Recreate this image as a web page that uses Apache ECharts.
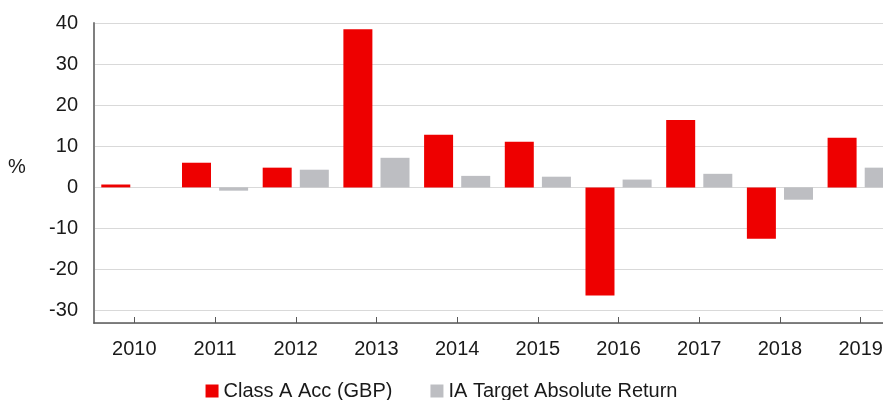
<!DOCTYPE html>
<html>
<head>
<meta charset="utf-8">
<script src="https://cdn.jsdelivr.net/npm/echarts@6/dist/echarts.min.js"></script>
<style>
html,body{margin:0;padding:0;background:#fff;}
#chart{width:883px;height:400px;}
</style>
</head>
<body>
<div id="chart"></div>
<script>
const years = ['2010','2011','2012','2013','2014','2015','2016','2017','2018','2019'];
const classA = [0.7, 6.0, 4.8, 38.5, 12.8, 11.1, -26.3, 16.4, -12.5, 12.1];
const iaTAR = [null, -0.8, 4.3, 7.2, 2.8, 2.6, 1.9, 3.3, -3.0, 4.8];
const seriesNames = ['Class A Acc (GBP)', 'IA Target Absolute Return'];
const yMin = -33, yMax = 40;

const font = 'Liberation Sans, Arial, sans-serif';
const chart = echarts.init(document.getElementById('chart'));
chart.setOption({
  animation: false,
  backgroundColor: '#fff',
  grid: { left: 94, width: 807, top: 23, height: 300, containLabel: false, outerBoundsMode: 'none' },
  graphic: [{
    type: 'text', left: 8, top: 157,
    style: { text: '%', font: '20px ' + font, fill: '#1a1a1a' }
  }],
  legend: {
    data: seriesNames,
    left: 'center', top: 376,
    icon: 'rect', itemWidth: 13, itemHeight: 13, itemGap: 38,
    textStyle: { fontFamily: font, fontSize: 20, color: '#1a1a1a' }
  },
  xAxis: {
    type: 'category',
    data: years,
    axisLine: { show: true, onZero: false, lineStyle: { color: '#595959', width: 1.5 } },
    axisTick: { show: true, alignWithLabel: true, inside: true, length: 6, lineStyle: { color: '#595959' } },
    axisLabel: { fontFamily: font, fontSize: 20, color: '#1a1a1a', margin: 16 },
    splitLine: { show: false }
  },
  yAxis: {
    type: 'value',
    min: yMin, max: yMax, splitNumber: 7, minInterval: 10, maxInterval: 10,
    axisLine: { show: true, lineStyle: { color: '#7f7f7f', width: 2 } },
    axisTick: { show: false },
    axisLabel: { fontFamily: font, fontSize: 20, color: '#1a1a1a', margin: 16, showMinLabel: false },
    splitLine: { show: true, lineStyle: { color: '#d9d9d9', width: 1.2 } }
  },
  series: [
    { name: seriesNames[0], type: 'bar', data: classA, barWidth: 29, barGap: '28%', itemStyle: { color: '#ee0000' } },
    { name: seriesNames[1], type: 'bar', data: iaTAR, barWidth: 29, barGap: '28%', itemStyle: { color: '#bdbec2' } }
  ]
});
</script>
</body>
</html>
